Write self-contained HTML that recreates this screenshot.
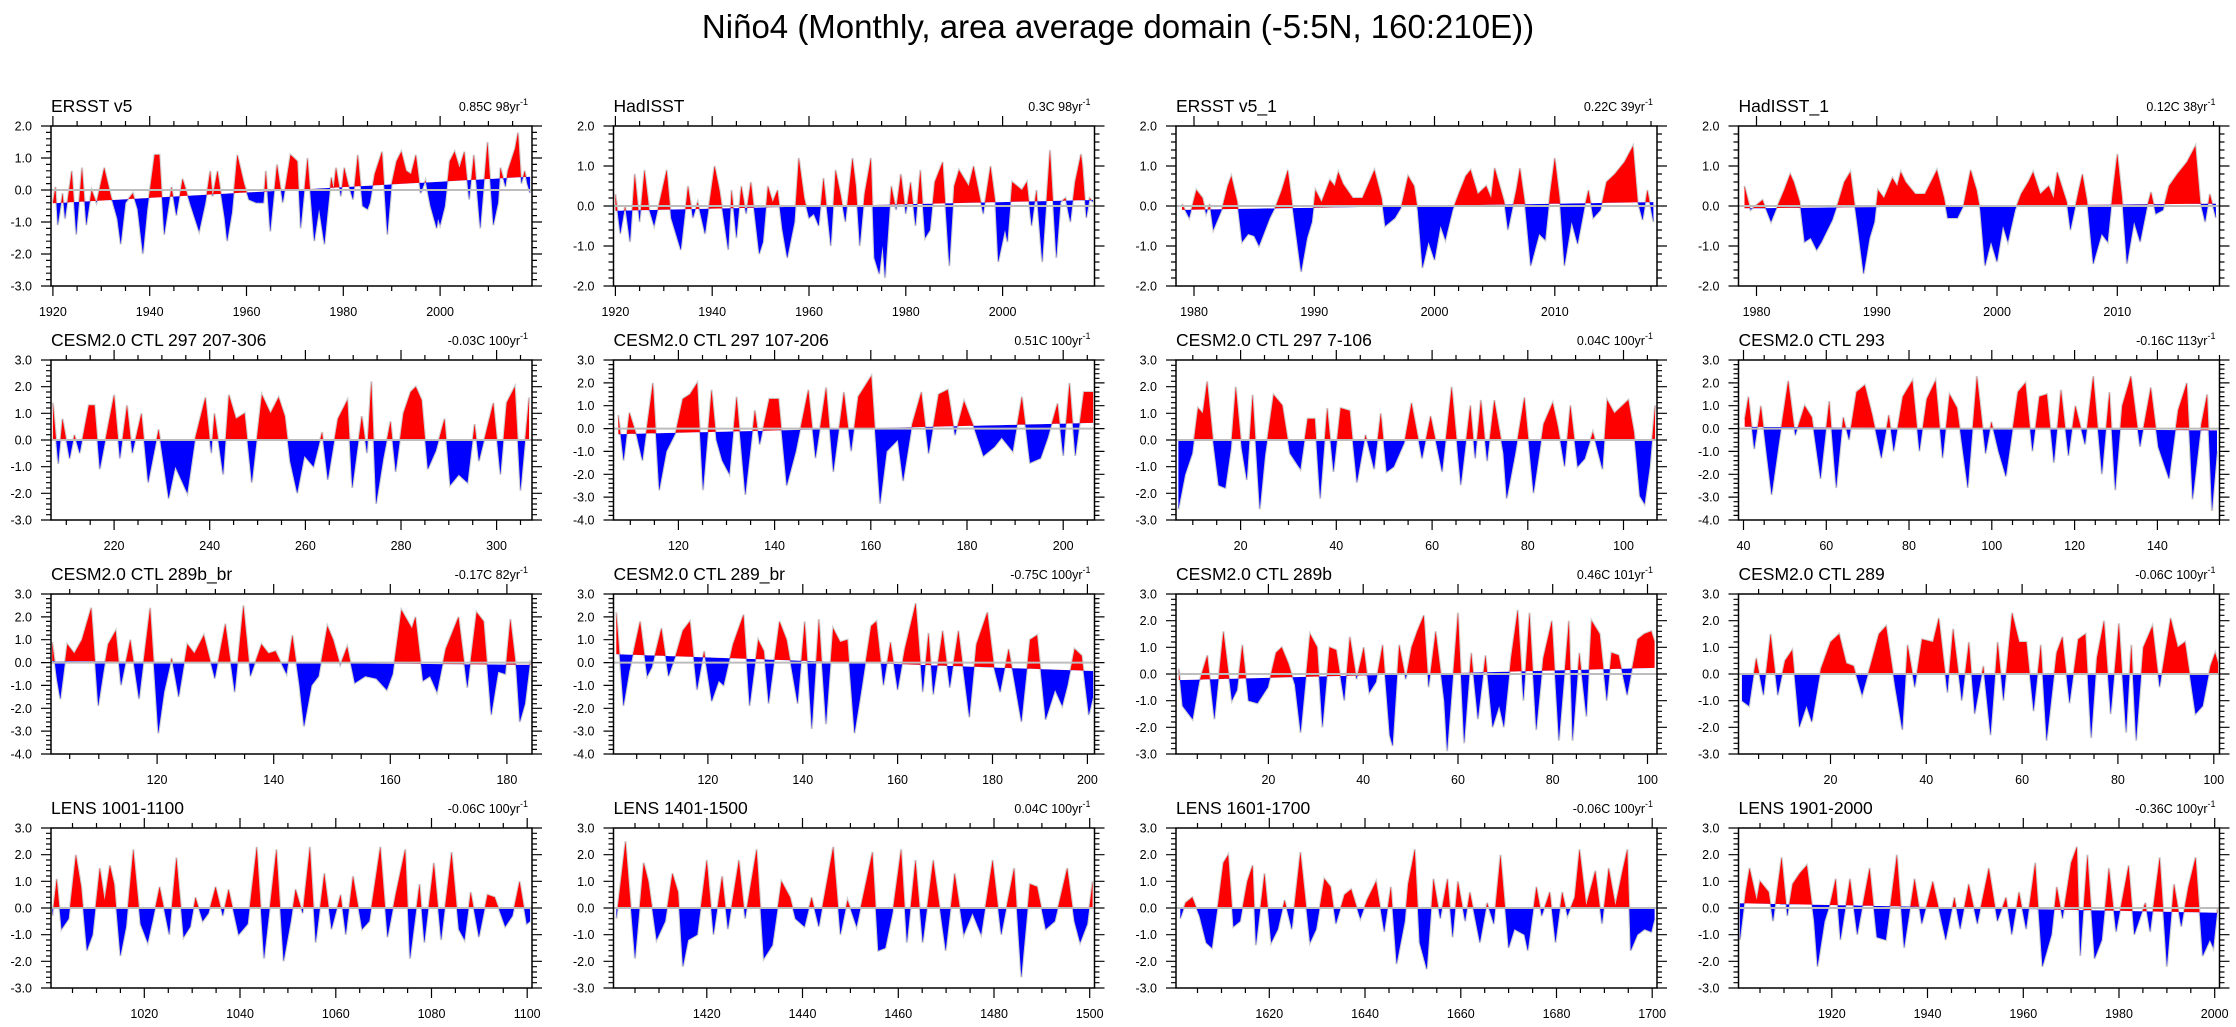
<!DOCTYPE html>
<html><head><meta charset="utf-8"><title>Niño4</title>
<style>
html,body{margin:0;padding:0;background:#fff;}
svg{display:block;font-family:"Liberation Sans",Arial,sans-serif;}
</style></head>
<body>
<svg id="fig" width="2236" height="1027" viewBox="0 0 2236 1027" xmlns="http://www.w3.org/2000/svg">
<rect x="0" y="0" width="2236" height="1027" fill="#fff"/>
<text x="1118" y="38" text-anchor="middle" font-size="33" fill="#000">Niño4 (Monthly, area average domain (-5:5N, 160:210E))</text>
</svg>
<script>
// ---- panel metadata ----
const titles = ["ERSST v5","HadISST","ERSST v5_1","HadISST_1","CESM2.0 CTL 297 207-306","CESM2.0 CTL 297 107-206","CESM2.0 CTL 297 7-106","CESM2.0 CTL 293","CESM2.0 CTL 289b_br","CESM2.0 CTL 289_br","CESM2.0 CTL 289b","CESM2.0 CTL 289","LENS 1001-1100","LENS 1401-1500","LENS 1601-1700","LENS 1901-2000"];
const trendText = ["0.85C 98yr","0.3C 98yr","0.22C 39yr","0.12C 38yr","-0.03C 100yr","0.51C 100yr","0.04C 100yr","-0.16C 113yr","-0.17C 82yr","-0.75C 100yr","0.46C 101yr","-0.06C 100yr","-0.06C 100yr","0.04C 100yr","-0.06C 100yr","-0.36C 100yr"];
const xMin = [1919.6,1919.6,1978.5,1978.5,206.8,106.5,6.5,38.8,101.8,100.1,0.5,0.8,1000.5,1400.5,1600.5,1900.5];
const xMax = [2019,2019,2018.5,2018.5,307.4,206.5,107,155,184.3,201.5,102,101.2,1101,1501,1701,2001];
const yMin = [-3,-2,-2,-2,-3,-4,-3,-4,-4,-4,-3,-3,-3,-3,-3,-3];
const yMax = [2,2,2,2,3,3,3,3,3,3,3,3,3,3,3,3];
const trendStart = [-0.42,-0.12,-0.1,-0.06,0.015,-0.25,-0.02,0.08,0.07,0.37,-0.23,0.03,0.03,-0.02,0.03,0.18];
const trendEnd = [0.42,0.15,0.1,0.06,-0.015,0.25,0.02,-0.08,-0.1,-0.37,0.23,-0.03,-0.03,0.02,-0.03,-0.18];
const tickFirst = [1920,1920,1980,1980,220,120,20,40,120,120,20,20,1020,1420,1620,1920];
const tickLast = [2000,2000,2010,2010,300,200,100,140,180,200,100,100,1100,1500,1700,2000];
const tickStep = [20,20,10,10,20,20,20,20,20,20,20,20,20,20,20,20];
const minorStep = [5,5,2,2,5,5,5,5,5,5,5,5,5,5,5,5];

// ---- series data (time, anomaly) ----
const p1t=[1920,1920.5,1921,1922,1922.5,1923.9,1924.8,1926,1926.9,1928,1929,1930.6,1932,1933.3,1934,1935,1936.5,1937.5,1938.6,1939.5,1941,1942,1943,1944.5,1945.5,1946.8,1948.5,1950.2,1951.5,1952.5,1953,1954,1955.5,1956,1957,1958.1,1959.5,1960.5,1962,1963.5,1964,1964.9,1966.3,1967.5,1969.1,1970.5,1971.2,1972.6,1974,1975,1976.1,1977.5,1978,1978.5,1979.5,1980.2,1981,1982,1983,1984,1985,1985.5,1986.5,1988,1989.1,1990,1991,1992,1993,1994,1995,1996,1997,1998,1999.3,1999.6,2000,2001,2002,2003,2004,2005,2006,2007,2008.3,2009.8,2011,2012,2012.5,2013.5,2014,2015.5,2016.1,2016.8,2017.5,2018,2018.6];
const p1v=[-0.4,0.1,-1.1,-0.1,-0.9,0.6,-1.4,0.7,-1.1,0.0,-0.4,0.7,-0.2,-0.9,-1.7,-0.4,-0.1,-0.6,-2.0,-0.6,1.1,1.1,-1.4,0.1,-0.8,0.35,-0.5,-1.3,-0.4,0.6,-0.2,0.6,-0.9,-1.6,-0.7,1.1,0.2,-0.3,-0.4,-0.4,0.6,-1.3,0.8,-0.4,1.1,0.9,-1.2,1.0,-1.6,-0.6,-1.7,0.4,0.05,0.7,-0.2,0.7,0.2,-0.3,1.1,-0.5,-0.6,-0.4,0.5,1.2,-1.4,0.2,0.9,1.2,0.6,0.5,1.1,-0.1,0.3,-0.5,-1.2,-0.9,-1.1,-0.5,0.9,1.2,0.7,1.2,-0.3,1.1,-1.2,1.5,-1.1,-0.4,0.7,0.1,0.6,1.3,1.8,0.2,0.6,0.2,-0.1];
const p2t=[1920,1921,1922,1923,1924,1925,1926,1927,1928,1930.6,1931.5,1933.5,1935,1936,1937,1938.5,1940.5,1941.5,1943.3,1944,1945,1946,1947,1948,1949.7,1950.5,1951.5,1952.5,1953.5,1954.5,1955.5,1957,1957.9,1959,1960,1961,1962,1963,1964.5,1965.5,1966.5,1967.5,1969,1969.7,1970.5,1971.5,1972.8,1973.5,1974.5,1975.2,1975.7,1977,1978,1979,1980,1981,1982,1983,1984,1985,1986,1987.6,1989,1990,1991,1992,1993,1994,1995,1996,1997.5,1998.5,1999.1,2000.5,2001,2002,2004,2005,2006,2007,2008.2,2009.8,2011.1,2012,2013,2014,2015,2016.2,2016.5,2017.3,2018,2018.7];
const p2v=[0.3,-0.7,0.0,-0.9,0.8,-0.4,0.9,-0.1,-0.5,0.9,-0.3,-1.1,0.5,-0.3,0.1,-0.7,1.0,0.4,-1.1,0.4,-0.8,0.5,-0.2,0.6,-1.2,-0.9,0.5,0.1,0.4,-0.6,-1.3,-0.4,1.2,0.2,-0.3,-0.2,-0.5,0.7,-1.0,0.9,0.3,-0.4,1.2,0.5,-1.0,0.3,1.2,-1.3,-1.7,-1.0,-1.8,0.5,-0.1,0.8,-0.2,0.6,-0.5,0.9,-0.8,-0.6,0.6,1.1,-1.5,0.5,0.9,0.7,0.5,1.0,0.4,-0.2,1.0,0.1,-1.4,-0.6,-0.9,0.6,0.4,0.6,-0.5,0.4,-1.4,1.4,-1.3,0.1,0.2,-0.4,0.6,1.3,1.0,-0.3,0.2,0.1];
const p3t=[1979,1979.6,1980.2,1980.7,1981,1981.3,1981.6,1982.3,1982.8,1983.1,1983.6,1984,1984.5,1985,1985.4,1986.3,1986.8,1987.3,1987.8,1988.4,1988.9,1989.4,1989.8,1990.1,1990.6,1991.3,1991.7,1992,1992.4,1993.2,1994,1995,1995.6,1995.9,1996.7,1997.2,1997.8,1998.3,1998.6,1999,1999.5,2000,2000.5,2000.9,2001.5,2002,2002.6,2003,2003.6,2004.3,2004.7,2005,2005.8,2006.1,2006.8,2007.1,2007.5,2008,2008.7,2009.2,2009.6,2010,2010.4,2010.8,2011.4,2011.9,2012.5,2012.8,2013.2,2013.8,2014.3,2015,2015.8,2016.5,2016.9,2017.3,2017.7,2018.2];
const p3v=[0.05,-0.3,0.4,0.2,-0.2,0.05,-0.6,-0.1,0.5,0.75,0.1,-0.9,-0.7,-0.75,-1.0,-0.3,0.0,0.4,0.9,-0.5,-1.65,-0.8,-0.4,0.4,0.1,0.65,0.5,0.85,0.55,0.2,0.2,0.9,0.2,-0.5,-0.3,-0.05,0.75,0.5,-0.1,-1.55,-0.9,-1.35,-0.5,-0.85,-0.1,0.3,0.75,0.9,0.3,0.5,0.2,0.95,0.1,-0.6,0.4,0.95,0.1,-1.5,-0.7,-0.85,0.3,1.2,0.2,-1.5,-0.4,-0.95,0.0,0.4,-0.3,-0.1,0.6,0.8,1.1,1.5,0.1,-0.35,0.4,-0.4];
const p4t=[1979,1979.5,1980.5,1981.2,1981.6,1982.3,1982.8,1983.1,1983.6,1984,1984.5,1985,1985.4,1986.3,1986.8,1987.3,1987.8,1988.4,1988.9,1989.4,1989.8,1990.1,1990.6,1991.3,1991.7,1992,1992.4,1993.2,1994,1995,1995.6,1995.9,1996.7,1997.2,1997.8,1998.3,1998.6,1999,1999.5,2000,2000.5,2000.9,2001.5,2002,2002.6,2003,2003.6,2004.3,2004.7,2005,2005.8,2006.1,2006.8,2007.1,2007.5,2008,2008.7,2009.2,2009.6,2010,2010.4,2010.8,2011.4,2011.9,2012.5,2012.8,2013.2,2013.8,2014.3,2015,2015.8,2016.5,2016.9,2017.3,2017.7,2018.2];
const p4v=[0.5,-0.1,0.15,-0.4,-0.1,0.4,0.8,0.6,0.1,-0.9,-0.8,-1.1,-0.9,-0.35,0.1,0.6,0.85,-0.5,-1.7,-0.8,-0.4,0.4,0.2,0.7,0.5,0.85,0.6,0.3,0.3,0.9,0.2,-0.3,-0.3,0.0,0.9,0.4,-0.1,-1.5,-0.9,-1.4,-0.5,-0.9,-0.1,0.3,0.6,0.85,0.3,0.5,0.2,0.85,0.1,-0.6,0.4,0.8,0.1,-1.45,-0.7,-0.9,0.3,1.3,0.2,-1.45,-0.4,-0.9,0.0,0.35,-0.2,-0.1,0.5,0.8,1.1,1.5,0.1,-0.4,0.3,-0.3];
const p5t=[207.2,208.3,209.2,210.7,211.7,212.8,214.7,215.9,217,218.5,220,221.2,222.7,223.8,225.7,227.1,229.3,231.4,232.8,235.3,237,239.1,240.3,241,242.8,244,245.5,247.3,248.8,250.9,252.7,254.4,255.7,256.8,258.3,259.8,261.7,263.5,264.7,266.8,268.8,269.8,271.8,272.9,273.8,274.8,276.3,277.8,278.9,280.5,282,283.1,284.3,285.6,287.3,289.1,290.3,292.1,293.9,295.4,296.3,299.3,300.8,302.1,303.8,305,306.8];
const p5v=[1.4,-0.9,0.8,-0.7,0.2,-0.5,1.3,1.3,-1.1,0.3,1.7,-0.7,1.3,-0.5,1.0,-1.6,0.4,-2.2,-1.0,-2.0,0.1,1.6,-0.5,1.0,-1.3,1.7,0.8,1.0,-1.6,1.7,1.0,1.6,0.9,-0.8,-2.0,-0.6,-1.0,0.3,-1.5,0.8,1.5,-1.8,0.9,-0.5,2.2,-2.4,-0.7,0.7,-1.2,1.0,1.8,2.0,1.5,-1.1,-0.4,0.8,-1.7,-1.3,-1.6,0.6,-0.8,1.4,-1.3,1.4,2.0,-1.9,1.6];
const p6t=[107.5,108.6,109.8,111.3,112.5,114.7,116,117.5,119.4,120.9,122.4,123.9,125.1,126.9,127.9,129.1,130.6,132.1,133.9,135.9,136.9,138.9,140.8,142.5,144.4,147,148.5,150.7,152.2,154.4,155.9,157.4,160.1,161.9,163.3,165.6,166.7,168.6,170.5,172,174.1,176,177.5,179.4,181.2,183.4,185.7,187.2,189.5,191.4,193.1,195.3,196.8,198.8,200,201.3,202.5,204.3,206.2];
const p6v=[0.6,-1.4,0.7,-0.3,-1.4,2.0,-2.7,-1.0,-0.2,1.3,1.5,2.0,-2.7,1.7,-0.5,-1.4,-2.0,1.4,-2.9,0.8,-0.7,1.3,1.3,-2.5,-1.0,1.7,-1.3,1.8,-1.9,1.6,-1.0,1.4,2.3,-3.3,-1.0,-0.5,-2.3,0.2,1.6,-1.1,1.5,1.7,-0.3,1.2,0.2,-1.2,-0.8,-0.4,-1.0,1.4,-1.5,-1.3,-0.4,1.1,-1.2,2.0,-1.2,1.6,1.6];
const p7t=[7,8.4,9.9,11.1,12.1,13,14.3,15.4,16.8,18,19,20.2,21.3,22.5,24,25.1,26.9,28.7,30.3,32.5,34,35.5,36.6,38.1,39.4,40.9,42.8,44.3,46.1,47.9,49.3,50.5,52,54.2,55.7,57.9,59.7,62.1,64.1,66,68,69,70.2,71.5,73,74.9,75.6,77.4,79.3,81.2,83.3,85.2,86.3,87.7,88.9,90.4,91.9,93.6,95.6,96.6,98.1,101,102.2,103.4,104.4,105.5,106.6];
const p7v=[-2.6,-1.3,-0.5,1.2,1.0,2.2,-0.1,-1.7,-1.8,-0.3,2.0,-0.3,-1.5,1.7,-2.6,-0.6,1.7,1.3,-0.5,-1.1,0.8,0.8,-2.2,1.2,-1.2,1.2,1.1,-1.6,0.2,-1.1,1.0,-1.2,-1.0,-0.1,1.4,-0.7,0.9,-1.2,2.0,-1.7,1.3,-0.7,1.5,-0.8,1.5,-0.5,-2.2,-0.5,1.6,-2.0,0.6,1.4,0.5,-1.0,1.3,-1.0,-0.7,0.3,-1.1,1.5,1.0,1.5,0.3,-2.1,-2.4,-1.0,1.3];
const p8t=[40.3,41.2,42.6,44.2,45.6,46.8,48.5,50.8,52.5,54.8,56.5,58.6,60.7,62.4,64.1,65.5,67.3,69.3,71.1,73.3,75.1,76.3,78.5,80.8,82.5,84.3,86.4,88.1,89.8,91.6,94.2,96.4,98.5,99.9,101.6,103.4,106.3,108.1,109.8,111.5,113.3,115,116.7,118.5,120.2,122.5,124.5,126.6,128.4,129.8,131.5,133.6,135.8,138.4,140.2,142.8,145,147.1,148.5,150.6,152,153.2,154.4];
const p8v=[0.4,1.4,-0.9,1.0,-1.1,-2.9,-0.7,2.1,-0.3,1.0,0.5,-2.2,1.2,-2.6,0.5,-0.5,1.6,1.9,0.6,-1.3,0.6,-1.0,1.4,2.1,-1.0,1.3,2.1,-1.3,1.5,0.9,-2.6,2.3,-1.1,0.3,-1.0,-2.1,1.6,2.0,-1.0,1.4,1.5,-1.5,1.7,-1.2,1.0,-0.7,2.3,-2.0,1.6,-2.7,1.0,2.3,-0.8,1.8,-0.8,-2.2,0.8,2.0,-3.1,0.2,1.5,-3.6,-1.0];
const p9t=[102,102.8,103.4,104.6,105.8,107.1,108.7,109.9,110.8,111.6,112.9,113.8,115.4,116.9,118.8,120.2,121.2,122.5,123.7,125.2,126.4,128,129.9,131.7,133.3,134.8,136,137.9,139.1,140.3,142.2,143.2,144.4,145.2,146.5,147.7,149.2,150.2,151.4,152.6,153.9,155.7,157.6,159.4,160.4,161.9,163.7,164.3,165.6,166.8,168,169.5,171.7,173.2,174.8,176,177.3,178.5,179.7,180.6,181.6,182.2,183.1,184];
const p9v=[0.9,-0.7,-1.6,0.8,0.4,1.0,2.4,-1.9,-0.4,0.8,1.4,-1.0,1.0,-1.6,2.4,-3.1,-1.3,0.2,-1.5,0.8,0.4,1.2,-0.7,1.7,-1.3,2.5,-0.6,0.8,0.4,0.5,-0.5,1.2,-1.0,-2.8,-1.0,-0.6,1.6,1.0,-0.1,0.7,-0.9,-0.6,-0.7,-1.2,-0.5,2.3,1.5,2.0,-0.8,-0.6,-1.3,0.6,2.0,-1.1,2.2,1.8,-2.3,-0.4,-0.5,1.9,-0.3,-2.6,-1.8,0.1];
const p10t=[100.7,102.2,103.4,105.7,107.2,108.2,110.2,111.7,113.2,114.7,116.2,117.7,119.2,120.8,122.3,123.3,125.3,127.5,128.8,130.6,131.8,132.8,135.1,136.6,138.9,140.4,141.9,143.4,144.9,146.4,147.9,149.4,150.9,152.5,154.4,155.5,157,158.5,160,161.5,163.8,165.3,166.5,167.5,169.5,171,172.8,175.1,176.6,178.9,180.4,181.6,183.4,184.6,186.1,187.9,189.4,191.2,193.2,194.7,195.8,197.3,198.8,200.3,201.2];
const p10v=[2.2,-1.9,-0.4,1.8,-0.6,-0.2,1.5,-0.6,0.3,1.4,1.8,-1.2,0.5,-1.7,-0.8,-1.0,0.8,2.1,-1.9,1.0,0.5,-1.8,1.8,1.0,-1.8,1.8,-2.9,1.9,-2.7,1.5,0.9,1.0,-3.1,-1.0,1.6,1.8,-1.0,0.9,-1.2,0.6,2.6,-1.3,1.3,-1.4,1.4,-1.1,1.4,-2.4,0.8,2.2,-0.3,-1.3,0.6,-0.8,-2.6,1.0,1.2,-2.5,-1.2,-1.9,-1.0,0.6,0.3,-2.3,-1.5];
const p11t=[1.1,1.9,4,5.4,7.1,8.6,10.5,12.3,13.4,14.5,15.8,17.7,19.9,21.6,22.8,24.2,25.6,26.8,28.8,30.3,31.4,32.9,34.3,36,37.2,38.6,40.1,41.3,42.7,44.1,45.6,46.2,47.6,49,50.2,51.4,52.8,53.8,55.3,57.1,57.7,60,61.3,62.8,64.2,65.8,67.3,68.7,69.7,71.2,72.6,73.8,75.1,76.5,78,79.8,81.3,83.4,84.2,85.6,87.1,88.2,89.9,91.4,92.4,93.9,95.7,97.9,99.3,100.8,101.5];
const p11v=[0.2,-1.2,-1.7,-0.3,0.7,-1.7,1.6,-1.0,-0.6,1.1,-1.0,-1.1,-0.5,0.8,1.0,0.4,-0.4,-2.2,1.5,1.0,-2.0,1.0,0.9,-1.0,1.4,-0.2,1.0,-0.7,-0.3,1.1,-2.3,-2.7,1.1,-0.2,1.0,1.6,2.2,-0.5,1.6,-1.0,-2.9,2.3,-2.6,0.8,-1.7,0.7,-2.0,-1.2,-2.0,0.6,2.4,-1.0,2.3,-2.1,0.6,2.0,-2.5,2.0,-2.5,0.8,-1.6,2.0,1.5,-1.0,0.8,0.7,-0.8,1.3,1.5,1.6,1.2];
const p12t=[1.5,3,4.5,6,7.5,9,10.5,12,13.5,15,16.1,18,20,21.8,23.3,24.8,26.6,28.6,30.1,31.6,33.5,35,36.1,37.6,39.1,41.4,42.6,44.4,45.6,47.4,48.9,50.1,51.9,53.4,54.9,56.1,57.9,59.4,60.9,62.4,63.9,65.1,67.2,68.4,69.9,71.7,73.2,74.4,75.6,77.1,78.5,80.2,81.7,82.8,83.8,85.3,87.2,88.7,91,92.5,94,96.2,97.7,99.3,100.3,100.9];
const p12v=[-1.0,-1.2,0.6,-0.8,1.5,-0.8,0.5,0.9,-2.0,-1.2,-1.8,0.2,1.2,1.5,0.4,0.3,-0.8,0.5,1.5,1.8,-0.5,-2.1,1.1,-0.5,1.3,1.2,2.1,-0.7,1.7,-1.0,1.2,-1.5,0.3,-2.3,1.2,-1.0,2.3,1.2,1.2,-1.4,1.1,-2.5,0.8,1.4,-1.1,1.3,1.5,-2.4,0.6,2.0,-1.5,1.9,-2.2,1.1,-2.5,1.0,1.8,-0.5,2.1,1.0,1.2,-1.5,-1.2,0.3,0.8,0.4];
const p13t=[1000.8,1001.7,1002.7,1004.2,1005.7,1006.8,1008,1009.2,1010.7,1011.7,1012.8,1013.7,1015,1016.2,1017.7,1019.2,1020.7,1021.7,1023.2,1025.2,1026.7,1028.2,1029.6,1030.7,1032.2,1033.4,1034.9,1036.4,1037.6,1039.7,1041.6,1043.5,1045,1047.6,1049.1,1050.6,1051.6,1053.1,1054.6,1055.8,1057.6,1059.1,1061,1062.1,1063.6,1065.5,1067,1069.3,1070.8,1072.5,1074.5,1075.5,1077.5,1078.5,1080.5,1082,1084.2,1085.7,1086.9,1088.2,1089.9,1091.7,1093.2,1095.4,1096.9,1098.4,1099.9,1100.6];
const p13v=[-0.3,1.1,-0.8,-0.4,2.0,0.8,-1.6,-1.0,1.5,0.3,1.6,0.9,-1.8,-0.7,2.2,-0.6,-1.3,-0.5,0.8,-1.0,1.9,-1.1,-0.7,0.4,-0.5,-0.2,0.8,-0.3,0.7,-1.0,-0.6,2.3,-1.9,2.2,-2.0,-0.5,0.7,-0.2,2.3,-1.3,1.3,-0.8,0.5,-1.0,1.2,-0.8,-0.5,2.3,-1.1,0.5,2.2,-1.9,0.9,-1.3,1.7,-1.2,2.1,-0.8,-1.2,0.6,-1.1,0.5,0.4,-0.7,-0.3,1.0,-0.6,-0.5];
const p14t=[1401.1,1403,1405,1406.8,1407.8,1409.5,1411.3,1412.8,1414,1415,1416.1,1418,1420,1421.4,1423.2,1424.4,1426.7,1428,1430.4,1431.9,1433.7,1435.6,1437.4,1438.5,1440.4,1441.9,1443.4,1446.4,1447.9,1449.4,1451.3,1454.6,1455.8,1457.3,1458.8,1460.6,1461.8,1463.6,1465.1,1467.3,1469.9,1471.8,1473.7,1475.5,1477.3,1479.7,1481.5,1484.2,1485.7,1487.5,1489,1490.8,1492.7,1495.3,1496.8,1498,1499.5,1500.6];
const p14v=[-0.4,2.5,-1.9,1.7,1.0,-1.2,-0.5,1.3,0.6,-2.2,-1.2,-1.0,1.8,-1.0,1.2,-0.8,1.8,-0.4,2.2,-1.9,-1.4,1.0,0.4,-0.4,-0.7,0.4,-0.7,2.3,-1.0,0.3,-0.7,2.1,-1.6,-1.5,-0.2,2.2,-1.3,1.8,-1.3,1.8,-1.6,1.3,-1.0,-0.2,-1.0,1.8,-1.0,1.5,-2.6,0.9,0.8,-0.8,-0.5,1.5,-0.5,-1.3,-0.6,1.0];
const p15t=[1601.4,1602.5,1603.9,1605.4,1606.8,1608,1609.4,1610.4,1611.4,1612.5,1613.9,1615.4,1616.5,1617.2,1619,1620.4,1621.8,1623.2,1624.7,1626.5,1628.5,1629.8,1631.5,1632.8,1633.9,1635.7,1637.1,1639,1640.4,1642.3,1644,1645.4,1646.6,1648.3,1649,1650.4,1651.4,1652.9,1654.3,1655.7,1657.2,1658.3,1659.4,1660.9,1661.9,1664,1665.5,1666.9,1668.3,1670,1671.2,1673.3,1674,1675.8,1676.9,1678.6,1679.8,1681.2,1682.3,1683.8,1684.8,1686.2,1688.1,1689.5,1690.9,1692.3,1693.8,1694.8,1695.5,1696.9,1698.4,1699.8,1700.5];
const p15v=[-0.4,0.2,0.4,-0.3,-1.3,-1.5,0.3,1.7,2.0,-0.7,-0.5,1.0,1.6,-1.4,1.3,-1.3,-0.8,0.3,-0.8,2.1,-1.3,-0.8,1.1,0.8,-0.6,0.5,0.7,-0.4,0.3,1.0,-0.9,0.8,-2.1,-0.5,0.9,2.2,-1.3,-2.3,1.1,-0.4,1.1,-1.1,1.0,-0.5,0.6,-1.3,0.2,-0.6,2.0,-1.5,-0.8,-1.0,-1.6,0.8,-0.3,0.6,-1.3,0.6,-0.3,0.4,2.2,0.1,1.4,-0.6,1.5,0.1,1.4,2.2,-1.6,-1.0,-0.8,-0.9,-0.4];
const p16t=[1900.8,1902,1902.8,1904.3,1905,1906.8,1907.7,1909.5,1910.7,1911.8,1913.3,1914.8,1916.3,1917,1918.5,1919.7,1920.8,1921.8,1923.8,1925.3,1927.9,1929.4,1931.3,1933.6,1935.1,1937.3,1938.8,1941.1,1943.8,1945.6,1946.8,1948.6,1950.4,1952.8,1954.6,1956.4,1957.6,1959.1,1960.6,1962.5,1964,1965.9,1967,1968.2,1970,1971.2,1971.9,1973.4,1974.9,1976.4,1977.9,1979.4,1982,1983.2,1985.5,1986.5,1988.5,1990,1991.5,1993,1994.5,1996,1997.5,1999,1999.7,2000.6];
const p16v=[-1.2,0.6,1.5,0.3,1.0,0.6,-0.5,1.9,-0.3,0.9,1.3,1.6,-0.5,-2.2,-0.5,0.2,1.1,-1.2,1.1,-1.0,1.5,-1.1,-1.2,2.0,-1.5,1.1,-0.6,1.0,-1.2,0.4,-0.8,0.9,-0.6,1.5,-0.5,0.4,-1.0,0.6,-0.8,1.7,-2.2,-1.0,0.8,-0.4,1.7,2.3,-1.8,2.0,-1.9,-1.2,1.5,-0.9,1.6,-1.0,0.2,-0.9,1.9,-2.2,0.9,-0.7,0.8,1.9,-1.8,-1.2,-1.5,0.0];

const seriesT=[p1t,p2t,p3t,p4t,p5t,p6t,p7t,p8t,p9t,p10t,p11t,p12t,p13t,p14t,p15t,p16t];
const seriesV=[p1v,p2v,p3v,p4v,p5v,p6v,p7v,p8v,p9v,p10v,p11v,p12v,p13v,p14v,p15v,p16v];

const NS='http://www.w3.org/2000/svg';
const svg=document.getElementById('fig');
function mk(tag,attrs,parent){const e=document.createElementNS(NS,tag);for(const k in attrs)e.setAttribute(k,attrs[k]);(parent||svg).appendChild(e);return e;}
function fmt(v){return v.toFixed(1);}

for(let i=0;i<16;i++){
  const col=i%4,row=Math.floor(i/4);
  const L=51+562.5*col, T=126+234*row, W=481, H=160;
  const x=t=>L+(t-xMin[i])/(xMax[i]-xMin[i])*W;
  const y=v=>T+(yMax[i]-v)/(yMax[i]-yMin[i])*H;
  const tr=t=>trendStart[i]+(trendEnd[i]-trendStart[i])*(t-xMin[i])/(xMax[i]-xMin[i]);
  const g=mk('g',{});
  
  
  // clip paths
  const defs=mk('defs',{},g);
  const cu=mk('clipPath',{id:'cu'+i},defs);
  mk('polygon',{points:`${L},${T} ${L+W},${T} ${L+W},${y(tr(xMax[i]))} ${L},${y(tr(xMin[i]))}`},cu);
  const cd=mk('clipPath',{id:'cd'+i},defs);
  mk('polygon',{points:`${L},${y(tr(xMin[i]))} ${L+W},${y(tr(xMax[i]))} ${L+W},${T+H} ${L},${T+H}`},cd);
  const cb=mk('clipPath',{id:'cb'+i},defs);
  mk('rect',{x:L,y:T,width:W,height:H},cb);
  const ts=seriesT[i],vs=seriesV[i];
  let pts=[];
  for(let k=0;k<ts.length;k++)pts.push(x(ts[k]).toFixed(1)+','+y(vs[k]).toFixed(1));
  const t0=ts[0],tn=ts[ts.length-1];
  const poly=`${x(t0).toFixed(1)},${y(tr(t0)).toFixed(1)} `+pts.join(' ')+` ${x(tn).toFixed(1)},${y(tr(tn)).toFixed(1)}`;
  const gc=mk('g',{'clip-path':`url(#cb${i})`},g);
  const outline=mk('polyline',{points:pts.join(' '),fill:'none',stroke:'#cfcfcf','stroke-width':2.2},gc);
  
  
  const red=mk('polygon',{points:poly,fill:'#ff0000','clip-path':`url(#cu${i})`},gc);
  
  
  const blue=mk('polygon',{points:poly,fill:'#0000ff','clip-path':`url(#cd${i})`},gc);
  
  
  const zl=mk('line',{x1:L,x2:L+W,y1:y(0),y2:y(0),stroke:'#bdbdbd','stroke-width':2},g);
  
  
  const frame=mk('rect',{x:L,y:T,width:W,height:H,fill:'none',stroke:'#000','stroke-width':1.5},g);
  
  
  // ticks
  let tk='';
  for(let v=Math.ceil(xMin[i]/minorStep[i])*minorStep[i];v<=xMax[i];v+=minorStep[i]){
    const major=((v-tickFirst[i])%tickStep[i]===0);
    const len=major?10:5;const xx=x(v).toFixed(1);
    tk+=`M${xx},${T+H}v${len}M${xx},${T}v${-len}`;
  }
  for(let v=yMin[i];v<=yMax[i]+1e-6;v+=0.2){
    const major=Math.abs(v-Math.round(v))<1e-6;
    const len=major?10:5;const yy=y(v).toFixed(1);
    tk+=`M${L},${yy}h${-len}M${L+W},${yy}h${len}`;
  }
  const tp=mk('path',{d:tk,stroke:'#000','stroke-width':1.2,fill:'none'},g);
  
  
  for(let v=tickFirst[i];v<=tickLast[i];v+=tickStep[i]){
    const tx=mk('text',{x:x(v).toFixed(1),y:T+H+30,'text-anchor':'middle','font-size':12.5},g);
    tx.textContent=String(v);
    
    
  }
  for(let v=yMin[i];v<=yMax[i];v+=1){
    const ty=mk('text',{x:L-19,y:y(v)+4.5,'text-anchor':'end','font-size':12.5},g);
    ty.textContent=fmt(v);
    
    
  }
  const tt=mk('text',{x:L,y:T-14,'font-size':17.5},g);
  tt.textContent=titles[i];
  
  
  const rt=mk('text',{x:L+W-4,y:T-15,'text-anchor':'end','font-size':12.5},g);
  
  
  rt.appendChild(document.createTextNode(trendText[i]));
  const sp=mk('tspan',{dy:-6,'font-size':9},rt);
  sp.textContent='-1';
}
</script>
</body></html>
